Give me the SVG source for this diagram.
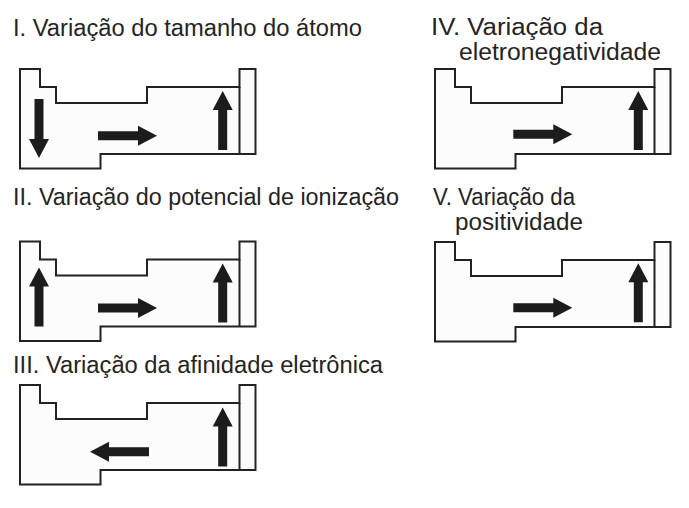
<svg xmlns="http://www.w3.org/2000/svg" xmlns:xlink="http://www.w3.org/1999/xlink" width="689" height="508" viewBox="0 0 689 508">
<style>
.lbl{font-family:"Liberation Sans",Arial,sans-serif;font-size:23px;fill:#242424}
.tbl{fill:#fcfcfc;stroke:#222;stroke-width:2;stroke-linejoin:miter}
.sep{fill:none;stroke:#222;stroke-width:2}
.arr{fill:#1c1c1c}
</style>
<defs>
<path id="shape" d="M0,0 H20 V18 H36 V34 H127 V18 H219.5 V0 H235.5 V85 H80.5 V99.5 H0 Z"/>
<path id="arrow" d="M0,-4.5 H40 V-10 L59,0 L40,10 V4.5 H0 Z"/>
</defs>
<rect width="689" height="508" fill="#ffffff"/>

<g id="panel-I">
<text class="lbl" x="13" y="36" textLength="349" lengthAdjust="spacingAndGlyphs">I. Variação do tamanho do átomo</text>
<g transform="translate(20,69)">
<use href="#shape" class="tbl"/>
<path class="sep" d="M219.5,18 V85"/>
<use href="#arrow" class="arr" transform="translate(19,30) rotate(90)"/>
<use href="#arrow" class="arr" transform="translate(78,66.7)"/>
<use href="#arrow" class="arr" transform="translate(202.7,81) rotate(-90)"/>
</g>
</g>

<g id="panel-II">
<text class="lbl" x="13" y="205" textLength="386" lengthAdjust="spacingAndGlyphs">II. Variação do potencial de ionização</text>
<g transform="translate(20,241.5)">
<use href="#shape" class="tbl"/>
<path class="sep" d="M219.5,18 V85"/>
<use href="#arrow" class="arr" transform="translate(19,85) rotate(-90)"/>
<use href="#arrow" class="arr" transform="translate(78,66.5)"/>
<use href="#arrow" class="arr" transform="translate(202.7,81) rotate(-90)"/>
</g>
</g>

<g id="panel-III">
<text class="lbl" x="13" y="373" textLength="370" lengthAdjust="spacingAndGlyphs">III. Variação da afinidade eletrônica</text>
<g transform="translate(20,385)">
<use href="#shape" class="tbl"/>
<path class="sep" d="M219.5,18 V85"/>
<use href="#arrow" class="arr" transform="translate(129,66.7) rotate(180)"/>
<use href="#arrow" class="arr" transform="translate(202.7,81.5) rotate(-90)"/>
</g>
</g>

<g id="panel-IV">
<text class="lbl" x="431" y="35" textLength="172" lengthAdjust="spacingAndGlyphs">IV. Variação da</text>
<text class="lbl" x="459" y="60" textLength="202" lengthAdjust="spacingAndGlyphs">eletronegatividade</text>
<g transform="translate(435,69)">
<use href="#shape" class="tbl"/>
<path class="sep" d="M219.5,18 V85"/>
<use href="#arrow" class="arr" transform="translate(78.3,65.3)"/>
<use href="#arrow" class="arr" transform="translate(203.3,81) rotate(-90)"/>
</g>
</g>

<g id="panel-V">
<text class="lbl" x="433" y="205" textLength="142" lengthAdjust="spacingAndGlyphs">V. Variação da</text>
<text class="lbl" x="455" y="230" textLength="128" lengthAdjust="spacingAndGlyphs">positividade</text>
<g transform="translate(435,242)">
<use href="#shape" class="tbl"/>
<path class="sep" d="M219.5,18 V84"/>
<use href="#arrow" class="arr" transform="translate(78.3,65.7)"/>
<use href="#arrow" class="arr" transform="translate(203.3,80.3) rotate(-90)"/>
</g>
</g>
</svg>
